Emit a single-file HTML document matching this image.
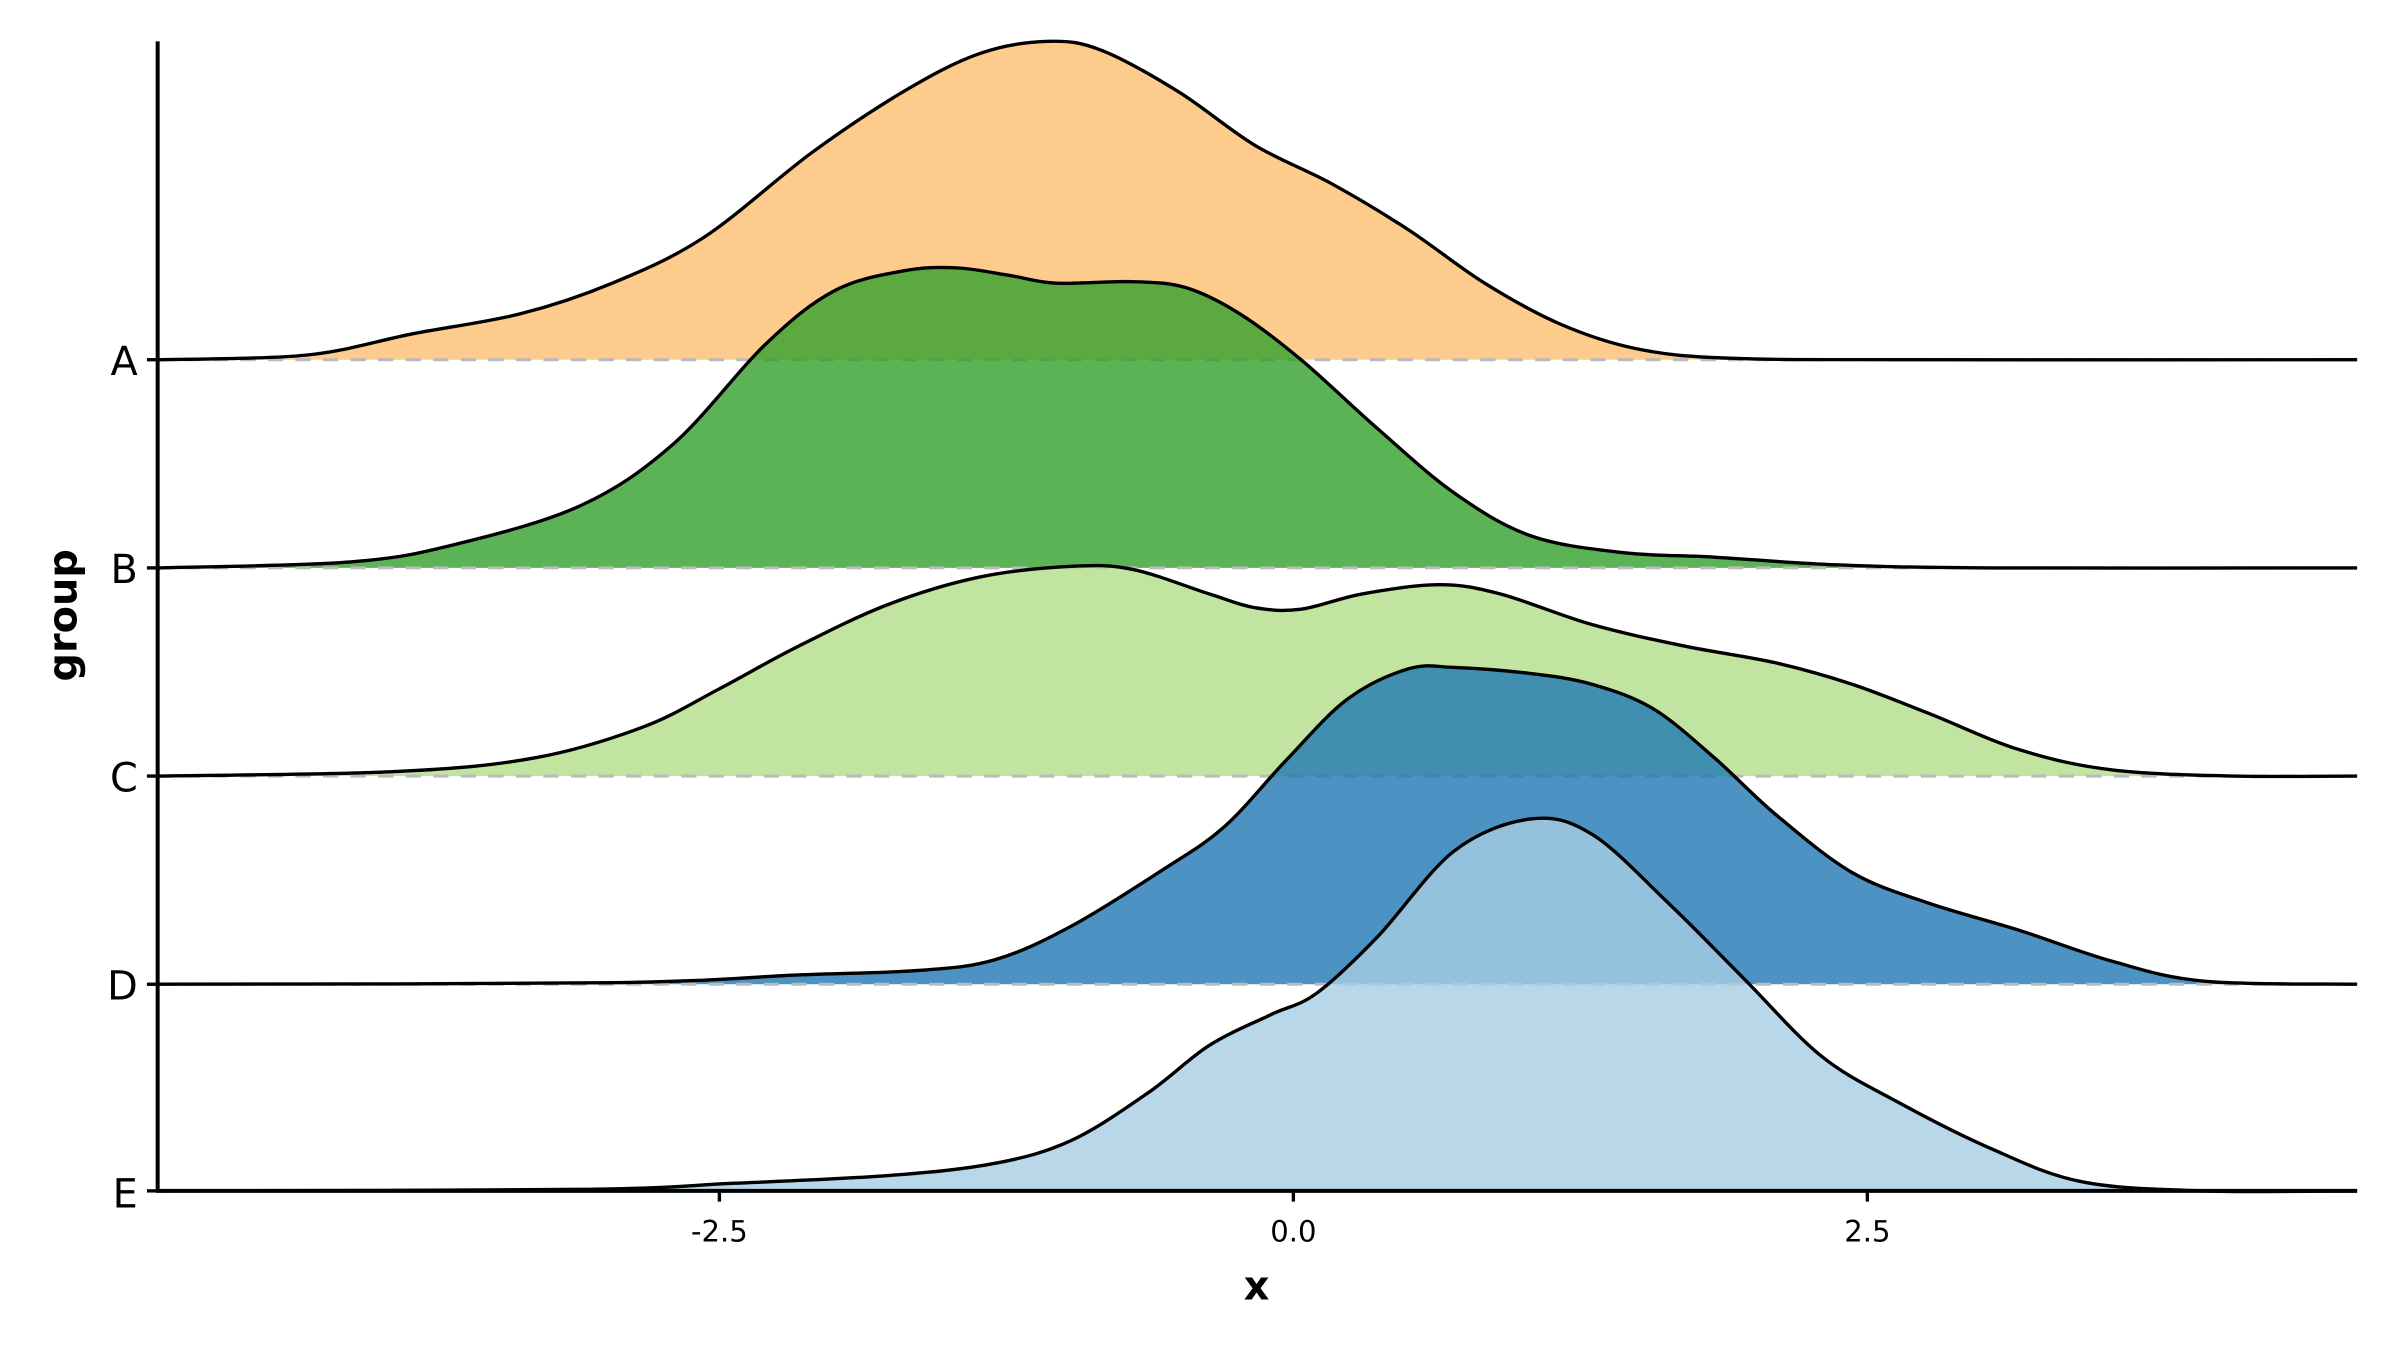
<!DOCTYPE html>
<html><head><style>html,body{margin:0;padding:0;background:#fff;}svg{display:block;}</style></head>
<body>
<svg id="s" width="2400" height="1351" viewBox="0 0 1568 882.6" preserveAspectRatio="none" xmlns="http://www.w3.org/2000/svg" font-family="'DejaVu Sans','Liberation Sans',sans-serif">
<rect width="1568" height="883" fill="#fff"/>
<g id="g"></g>
<line x1="103" y1="27" x2="103" y2="779" stroke="#000" stroke-width="2.6"/>
<line x1="102" y1="778" x2="1540" y2="778" stroke="#000" stroke-width="2.6"/>
<g stroke="#000" stroke-width="2.2">
<line x1="96" y1="235" x2="103" y2="235"/><line x1="96" y1="371" x2="103" y2="371"/><line x1="96" y1="507" x2="103" y2="507"/><line x1="96" y1="643" x2="103" y2="643"/><line x1="96" y1="778" x2="103" y2="778"/>
<line x1="470" y1="778" x2="470" y2="785"/><line x1="845" y1="778" x2="845" y2="785"/><line x1="1220" y1="778" x2="1220" y2="785"/>
</g>
<g font-size="26" text-anchor="end" fill="#000">
<text x="90" y="245">A</text><text x="90" y="381">B</text><text x="90" y="517">C</text><text x="90" y="653">D</text><text x="90" y="789">E</text>
</g>
<g font-size="19" text-anchor="middle" fill="#000">
<text x="470" y="811">-2.5</text><text x="845" y="811">0.0</text><text x="1220" y="811">2.5</text>
</g>
<text x="821" y="849" font-size="26" font-weight="bold" text-anchor="middle">x</text>
<text transform="translate(50,402) rotate(-90)" font-size="26" font-weight="bold" text-anchor="middle">group</text>
</svg>
<script>
var D=[
["#fdbf6f",235,[[103,235],[200,232],[270,218],[340,205],[400,185],[460,155],[530,100],[590,60],[640,35],[685,27],[720,33],[770,60],[820,95],[870,120],[920,150],[970,185],[1020,212],[1070,228],[1130,234],[1250,235],[1540,235]]],
["#33a02c",371,[[103,371],[230,367],[300,355],[380,330],[440,290],[500,225],[545,190],[590,177],[625,175],[660,180],[690,185],[740,184],[775,188],[810,205],[850,235],[900,280],[950,322],[1000,350],[1060,361],[1120,364],[1200,369],[1300,371],[1540,371]]],
["#b2df8a",507,[[103,507],[260,504],[350,495],[420,475],[470,450],[520,423],[580,395],[640,377],[700,370],[740,372],[790,388],[820,397],[850,398],[890,388],[940,382],[980,388],[1040,408],[1100,422],[1160,433],[1210,447],[1260,466],[1320,490],[1380,503],[1460,507],[1540,507]]],
["#1f78b4",643,[[103,643],[400,642],[520,637],[600,634],[650,627],[700,605],[760,568],[800,540],[840,497],[880,457],[920,437],[950,436],[1000,440],[1040,447],[1080,463],[1120,495],[1160,532],[1210,570],[1260,590],[1320,608],[1380,628],[1440,641],[1540,643]]],
["#a6cee3",778,[[103,778],[380,777],[480,773],[580,768],[650,760],[700,745],[750,714],[790,683],[830,663],[860,649],[900,612],[950,556],[1000,535],[1040,545],[1090,590],[1140,640],[1190,690],[1240,720],[1300,750],[1360,772],[1440,778],[1540,778]]]];
function cr(p){var d="M"+p[0][0]+","+p[0][1];for(var i=0;i<p.length-1;i++){var a=p[i-1]||p[i],b=p[i],c=p[i+1],e=p[i+2]||c;d+=" C"+(b[0]+(c[0]-a[0])/6)+","+(b[1]+(c[1]-a[1])/6)+" "+(c[0]-(e[0]-b[0])/6)+","+(c[1]-(e[1]-b[1])/6)+" "+c[0]+","+c[1];}return d;}
var g=document.getElementById("g"),h="";
D.forEach(function(s){var c=cr(s[2]);h+='<path d="'+c+' L1540,'+s[1]+' L103,'+s[1]+' Z" fill="'+s[0]+'" fill-opacity="0.8"/>';h+='<line x1="103" y1="'+s[1]+'" x2="1540" y2="'+s[1]+'" stroke="#bbb" stroke-width="2" stroke-dasharray="10,8"/>';h+='<path d="'+c+'" fill="none" stroke="#000" stroke-width="2.2"/>';});
g.innerHTML=h;
</script>
</body></html>
